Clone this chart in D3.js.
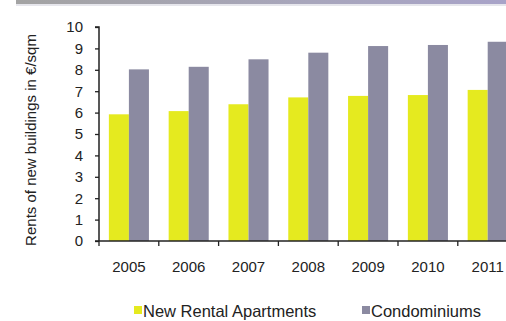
<!DOCTYPE html>
<html>
<head>
<meta charset="utf-8">
<script src="https://cdn.jsdelivr.net/npm/d3@7"></script>
<style>
  html, body { margin: 0; padding: 0; background: #fff; }
  svg { display: block; }
  text { font-family: "Liberation Sans", Arial, sans-serif; fill: #222; }
</style>
</head>
<body>
<svg id="chart" width="506" height="321"></svg>
<script>
const years = ["2005", "2006", "2007", "2008", "2009", "2010", "2011"];
const rentalApartments = [5.92, 6.07, 6.39, 6.71, 6.78, 6.82, 7.06];
const condominiums = [8.02, 8.14, 8.49, 8.80, 9.11, 9.16, 9.31];
const seriesNames = ["New Rental Apartments", "Condominiums"];
const seriesColors = ["#e5ea1f", "#8b8aa1"];
const yTicks = [0, 1, 2, 3, 4, 5, 6, 7, 8, 9, 10];
const yLabel = "Rents of new buildings in €/sqm";

const svg = d3.select("#chart");

// top header band
const defs = svg.append("defs");
const grad = defs.append("linearGradient").attr("id", "band").attr("x1", "0").attr("x2", "1");
grad.append("stop").attr("offset", "0").attr("stop-color", "#a3a3a3");
grad.append("stop").attr("offset", "0.6").attr("stop-color", "#a8a6bc");
grad.append("stop").attr("offset", "1").attr("stop-color", "#a8a3c8");
svg.append("rect").attr("x", 16).attr("y", 0).attr("width", 490).attr("height", 4).attr("fill", "url(#band)");
svg.append("rect").attr("x", 16).attr("y", 4).attr("width", 490).attr("height", 2).attr("fill", "#e6e6ec");

const x0 = d3.scaleBand().domain(years).range([99, 517.6]).paddingInner(0.33).paddingOuter(0.165);
const x1 = d3.scaleBand().domain(seriesNames).range([0, x0.bandwidth()]);
const y = d3.scaleLinear().domain([0, 10]).range([241, 27]);

const data = years.map((yr, i) => ({ year: yr, values: [rentalApartments[i], condominiums[i]] }));

const groups = svg.append("g").selectAll("g").data(data).join("g")
  .attr("transform", d => `translate(${x0(d.year)},0)`);
groups.selectAll("rect").data(d => d.values.map((v, j) => ({ v, j }))).join("rect")
  .attr("x", d => x1(seriesNames[d.j]))
  .attr("y", d => y(d.v))
  .attr("width", x1.bandwidth())
  .attr("height", d => y(0) - y(d.v))
  .attr("fill", d => seriesColors[d.j]);

// y axis
const yAxis = svg.append("g").attr("transform", "translate(99,0)")
  .call(d3.axisLeft(y).tickValues(yTicks).tickSize(4).tickPadding(12).tickFormat(d3.format("d")));
yAxis.select(".domain").attr("stroke", "#222").attr("stroke-width", 1.5).attr("d", "M-4,27H0V241");
yAxis.selectAll(".tick line").attr("stroke", "#222").attr("stroke-width", 1.3);
yAxis.selectAll(".tick text").style("font-size", "15px").attr("fill", "#222");

// x axis with ticks at category boundaries
const step = x0.step();
const bounds = d3.range(0, years.length + 1).map(i => 99 + i * step);
const xAxisG = svg.append("g");
xAxisG.append("line").attr("x1", 95).attr("x2", 506).attr("y1", 241).attr("y2", 241)
  .attr("stroke", "#222").attr("stroke-width", 1.5);
xAxisG.selectAll("line.tk").data(bounds).join("line").attr("class", "tk")
  .attr("x1", d => d).attr("x2", d => d).attr("y1", 241).attr("y2", 246)
  .attr("stroke", "#222").attr("stroke-width", 1.3);
xAxisG.selectAll("text").data(years).join("text")
  .attr("x", d => x0(d) + x0.bandwidth() / 2)
  .attr("y", 272)
  .attr("text-anchor", "middle")
  .style("font-size", "15px")
  .text(d => d);

// y label
svg.append("text")
  .attr("transform", "translate(36,140) rotate(-90)")
  .attr("text-anchor", "middle")
  .style("font-size", "15px")
  .text(yLabel);

// legend
const legendX = [134, 362];
const leg = svg.append("g").selectAll("g").data(seriesNames).join("g")
  .attr("transform", (d, i) => `translate(${legendX[i]},0)`);
leg.append("rect").attr("x", 0).attr("y", 306).attr("width", 8).attr("height", 8)
  .attr("fill", (d, i) => seriesColors[i]);
leg.append("text").attr("x", 9).attr("y", 317).style("font-size", "16.5px").text(d => d);
</script>
</body>
</html>
